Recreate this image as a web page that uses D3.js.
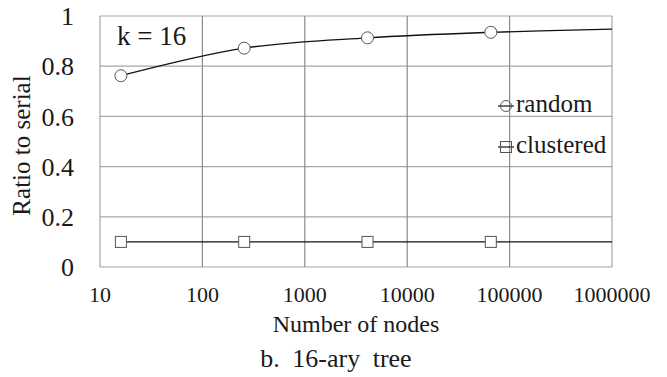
<!DOCTYPE html>
<html><head><meta charset="utf-8">
<script src="https://cdn.jsdelivr.net/npm/d3@7"></script>
<style>
html,body{margin:0;padding:0;background:#fff;}
#chart text{font-family:'Liberation Serif' !important;}
</style></head>
<body>
<svg id="chart" width="667" height="377" style="font-family:'Liberation Serif'"></svg>
<script>
// Data
const nodes = [16, 256, 4096, 65536];
const randomVals = [0.762, 0.872, 0.913, 0.935];
const clusteredVals = [0.1, 0.1, 0.1, 0.1];
// line continues (unmarked) to the axis end
const lineEndNode = 1000000;
const randomEnd = 0.948;
const clusteredEnd = 0.1;
const xTicks = [10, 100, 1000, 10000, 100000, 1000000];
const yTicks = [0, 0.2, 0.4, 0.6, 0.8, 1];
const seriesNames = ["random", "clustered"];

const svg = d3.select("#chart");
const L = 100, R = 612, T = 16, B = 267;
const x = d3.scaleLog().domain([10, 1000000]).range([L, R]);
const y = d3.scaleLinear().domain([0, 1]).range([B, T]);

const grid = svg.append("g");
grid.selectAll("line.h").data(yTicks).enter().append("line")
  .attr("x1", L).attr("x2", R).attr("y1", d => y(d)).attr("y2", d => y(d))
  .attr("stroke", "#a6a6a6").attr("stroke-width", 1.2);
grid.selectAll("line.v").data(xTicks).enter().append("line")
  .attr("y1", T).attr("y2", B).attr("x1", d => x(d)).attr("x2", d => x(d))
  .attr("stroke", d => (d === 10 || d === 1000000) ? "#a6a6a6" : "#8c8c8c").attr("stroke-width", 1.2);

function txt(sel) { return sel.style("font-family", "'Liberation Serif'").style("fill", "#1a1a1a"); }

// Axes labels
txt(svg.append("g").selectAll("text").data(yTicks).enter().append("text"))
  .attr("x", 74).attr("y", d => y(d)).attr("dy", "0.35em")
  .attr("text-anchor", "end").style("font-size", "26px")
  .text(d => String(d));
txt(svg.append("g").selectAll("text").data(xTicks).enter().append("text"))
  .attr("x", d => x(d)).attr("y", 302)
  .attr("text-anchor", "middle").style("font-size", "22px")
  .text(d => String(d));

txt(svg.append("text")).attr("transform", `translate(30,${(T+B)/2+4}) rotate(-90)`)
  .attr("text-anchor", "middle").style("font-size", "25px").text("Ratio to serial");
txt(svg.append("text")).attr("x", 356).attr("y", 332).attr("text-anchor", "middle")
  .style("font-size", "24px").text("Number of nodes");
txt(svg.append("text")).attr("x", 336).attr("y", 367).attr("text-anchor", "middle")
  .style("font-size", "26px").style("word-spacing", "6px").text("b. 16-ary tree");
txt(svg.append("text")).attr("x", 117).attr("y", 45).style("font-size", "27px").text("k = 16");

// Lines
const line = d3.line().x(d => x(d[0])).y(d => y(d[1])).curve(d3.curveCatmullRom.alpha(0.5));
const rData = nodes.map((n, i) => [n, randomVals[i]]).concat([[lineEndNode, randomEnd]]);
const cData = nodes.map((n, i) => [n, clusteredVals[i]]).concat([[lineEndNode, clusteredEnd]]);
svg.append("path").attr("d", line(rData)).attr("fill", "none").attr("stroke", "#111").attr("stroke-width", 1.3);
svg.append("path").attr("d", line(cData)).attr("fill", "none").attr("stroke", "#111").attr("stroke-width", 1.3);

svg.append("g").selectAll("circle").data(nodes).enter().append("circle")
  .attr("cx", d => x(d)).attr("cy", (d, i) => y(randomVals[i])).attr("r", 6)
  .attr("fill", "#fff").attr("stroke", "#555").attr("stroke-width", 1);
svg.append("g").selectAll("rect").data(nodes).enter().append("rect")
  .attr("x", d => x(d) - 5.5).attr("y", (d, i) => y(clusteredVals[i]) - 5.5)
  .attr("width", 11).attr("height", 11)
  .attr("fill", "#fff").attr("stroke", "#555").attr("stroke-width", 1);

// Legend
const lg = svg.append("g");
const legY = [106, 147];
seriesNames.forEach((name, i) => {
  const cy = legY[i];
  lg.append("line").attr("x1", 498).attr("x2", 514).attr("y1", cy).attr("y2", cy)
    .attr("stroke", "#111").attr("stroke-width", 1.2);
  if (i === 0) {
    lg.append("circle").attr("cx", 506).attr("cy", cy).attr("r", 5.5)
      .attr("fill", "none").attr("stroke", "#555");
  } else {
    lg.append("rect").attr("x", 500.5).attr("y", cy - 5.5).attr("width", 11).attr("height", 11)
      .attr("fill", "none").attr("stroke", "#555");
  }
  txt(lg.append("text")).attr("x", 516).attr("y", cy + 6).style("font-size", "25px").text(name);
});
</script>
</body></html>
